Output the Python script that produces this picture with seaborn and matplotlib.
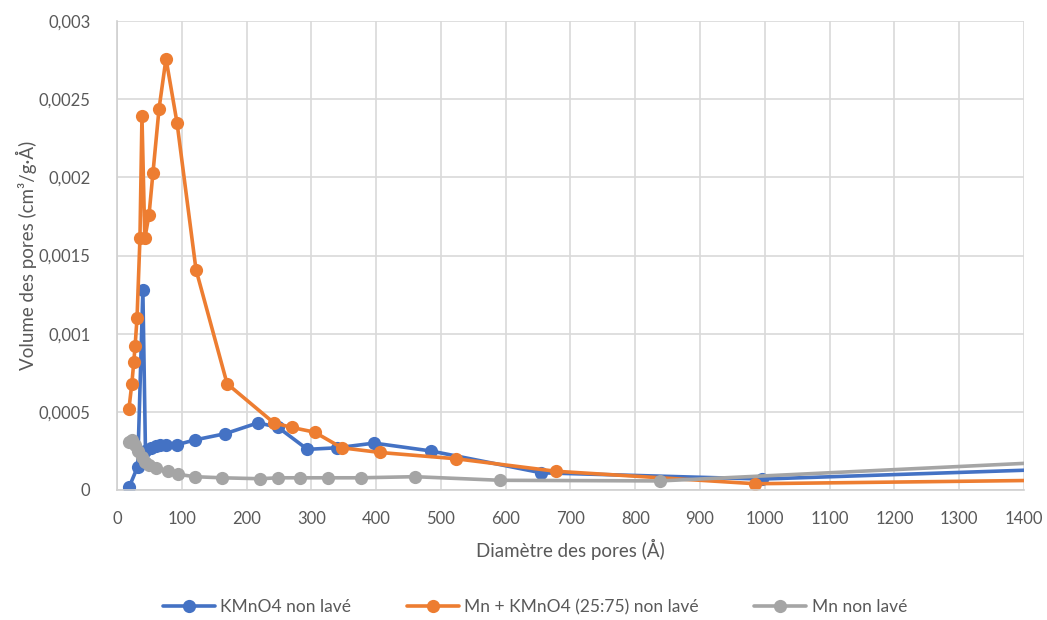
import matplotlib
matplotlib.use("Agg")
import matplotlib.pyplot as plt
import seaborn as sns
import pandas as pd
from matplotlib.ticker import FixedLocator, FixedFormatter

# BJH pore-size distributions (diameter in Å, volume in cm3/g·Å)
kmno4_d = [19, 32, 40, 44, 52, 60, 66, 76, 93, 120, 167, 218, 249, 294, 340, 397, 484, 655, 996, 2000]
kmno4_v = [0.00002, 0.00015, 0.00128, 0.00025, 0.00027, 0.00028, 0.00029, 0.00029, 0.00029, 0.00032,
           0.00036, 0.00043, 0.00040, 0.00026, 0.00027, 0.00030, 0.00025, 0.00011, 0.00007, 0.00021]

mix_d = [18.5, 23, 26, 28, 31, 35.5, 38.6, 43, 49.5, 55.6, 65, 75.7, 92.7, 122, 170, 242, 270, 305, 347, 406, 523, 677, 985, 2000]
mix_v = [0.00052, 0.00068, 0.00082, 0.00092, 0.00110, 0.00161, 0.00239, 0.00161, 0.00176, 0.00203,
         0.00244, 0.00276, 0.00235, 0.00141, 0.00068, 0.00043, 0.00040, 0.00037, 0.00027, 0.00024,
         0.00020, 0.00012, 0.00004, 0.00009]

mn_d = [19, 24, 28, 33, 38, 44, 50, 61, 79, 95, 120, 162, 221, 248, 283, 325, 376, 460, 592, 838, 2000]
mn_v = [0.00031, 0.00032, 0.00029, 0.00025, 0.00021, 0.00018, 0.00016, 0.00014, 0.00012, 0.00010,
        0.000085, 0.000078, 0.000072, 0.000078, 0.000078, 0.000078, 0.000078, 0.000085, 0.000062,
        0.000058, 0.00029]

series_names = ["KMnO4 non lavé", "Mn + KMnO4 (25:75) non lavé", "Mn non lavé"]
series_colors = ["#4472C4", "#ED7D31", "#A5A5A5"]

x_ticks = list(range(0, 1500, 100))
y_ticks = [0, 0.0005, 0.001, 0.0015, 0.002, 0.0025, 0.003]
y_tick_labels = ["0", "0,0005", "0,001", "0,0015", "0,002", "0,0025", "0,003"]

frames = []
for name, d, v in zip(series_names, [kmno4_d, mix_d, mn_d], [kmno4_v, mix_v, mn_v]):
    frames.append(pd.DataFrame({"d": d, "v": v, "serie": name}))
df = pd.concat(frames, ignore_index=True)

sns.set_theme(style="white")
plt.rcParams["font.family"] = ["Lato", "DejaVu Sans"]

fig = plt.figure(figsize=(10.47, 6.2), dpi=100)
ax = fig.add_axes([0.1117, 0.2097, 0.978 - 0.1117, 0.966 - 0.2097])

sns.lineplot(data=df, x="d", y="v", hue="serie", hue_order=series_names,
             palette=series_colors, marker="o", markersize=9.5, markeredgewidth=0,
             linewidth=2.6, sort=False, estimator=None, ax=ax, legend=True)

ax.set_xlim(0, 1400)
ax.set_ylim(0, 0.003)
ax.xaxis.set_major_locator(FixedLocator(x_ticks))
ax.set_xticklabels([str(t) for t in x_ticks])
ax.yaxis.set_major_locator(FixedLocator(y_ticks))
ax.yaxis.set_major_formatter(FixedFormatter(y_tick_labels))

ax.grid(True, color="#D9D9D9", linewidth=1.2)
ax.set_axisbelow(True)
for side in ["top", "right"]:
    ax.spines[side].set_visible(False)
for side in ["left", "bottom"]:
    ax.spines[side].set_color("#D0D0D0")
    ax.spines[side].set_linewidth(1.2)

ax.tick_params(axis="x", length=0, labelsize=12, labelcolor="#595959", pad=15)
ax.tick_params(axis="y", length=0, labelsize=12, labelcolor="#595959", pad=19)
ax.set_xlabel("Diamètre des pores (Å)", fontsize=13.5, color="#595959", labelpad=9)
ax.set_ylabel("Volume des pores (cm³/g·Å)", fontsize=13.5, color="#595959", labelpad=1)

handles, labels = ax.get_legend_handles_labels()
ax.legend_.remove()
fig.legend(handles, labels, loc="center", bbox_to_anchor=(0.511, 1 - 607 / 620), ncol=3,
           frameon=False, fontsize=12.5, labelcolor="#595959", handlelength=3.0,
           handletextpad=0.3, columnspacing=3.2)

fig.savefig("out.png", dpi=100)
